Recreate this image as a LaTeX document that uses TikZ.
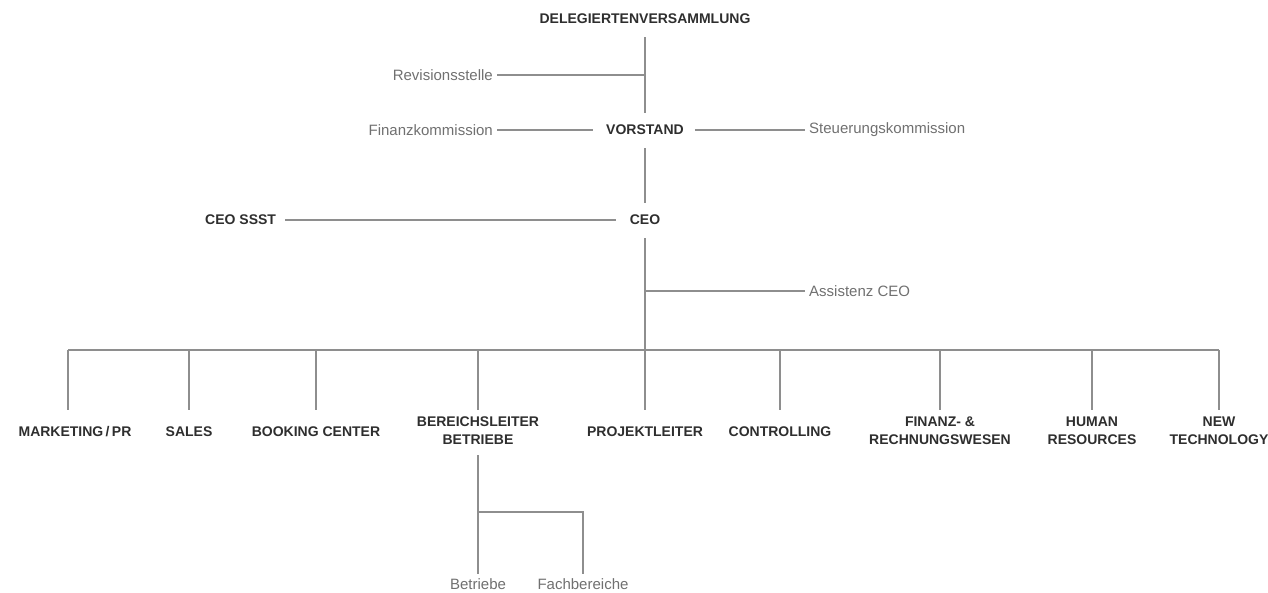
\documentclass[tikz,border=0pt]{standalone}
\usepackage{fontspec}
\setmainfont{Liberation Sans}
\definecolor{linegray}{HTML}{8E8E8E}
\definecolor{darktext}{HTML}{2E2E2E}
\definecolor{softtext}{HTML}{707070}

\begin{document}
\begin{tikzpicture}[x=1pt,y=-1pt,
                  chief/.style={font=\fontsize{14}{18}\selectfont\bfseries, text=darktext,
                              inner sep=0pt, align=center},
                  staff/.style={font=\fontsize{15}{18}\selectfont, text=softtext, inner sep=0pt},
                  link/.style={draw=linegray, line width=1.6pt}]
            \useasboundingbox (0,0) rectangle (1268,592);
            % top of the chart
            \node[chief] (dv) at (645,19) {DELEGIERTENVERSAMMLUNG};
            \node[chief] (vor) at (645,130) {VORSTAND};
            \node[staff, anchor=east] (rev) at (493,75) {Revisionsstelle};
            \node[staff, anchor=east] (fin) at (493,130) {Finanzkommission};
            \node[staff, anchor=west] (steu) at (809,130) {Steuerungskommission};
            \node[chief] (ceo) at (645,220) {CEO};
            \node[chief, anchor=west] (ssst) at (205,220) {CEO SSST};
            \node[staff, anchor=west] (ass) at (809,291) {Assistenz CEO};

            \draw[link, shorten <=13pt, shorten >=12pt] (dv.south) -- (vor.north);
            \draw[link, shorten <=4pt] (rev.east) -- (rev.east -| vor);
            \draw[link, shorten <=4pt, shorten >=13pt] (fin) -- (vor);
            \draw[link, shorten <=11pt, shorten >=4pt] (vor) -- (steu);
            \draw[link, shorten <=13pt, shorten >=12pt] (vor) -- (ceo);
            \draw[link, shorten <=9pt, shorten >=14pt] (ssst) -- (ceo);

            % departments
            \node[chief] (mkt) at (75,432) {MARKETING\,/\,PR};
            \node[chief] (sales) at (189,432) {SALES};
            \node[chief] (book) at (316,432) {BOOKING CENTER};
            \node[chief] (brl) at (478,431) {BEREICHSLEITER\\BETRIEBE};
            \node[chief] (proj) at (645,432) {PROJEKTLEITER};
            \node[chief] (ctrl) at (780,432) {CONTROLLING};
            \node[chief] (frw) at (940,431) {FINANZ- \&\\RECHNUNGSWESEN};
            \node[chief] (hr) at (1092,431) {HUMAN\\RESOURCES};
            \node[chief] (nt) at (1219,431) {NEW\\TECHNOLOGY};

            \coordinate (bar) at (68,350);
            \coordinate (dropend) at (68,410);
            \draw[link, shorten <=13pt] (ceo.south) -- (ceo.south |- bar);
            \draw[link, shorten >=4pt] (ceo |- ass) -- (ass.west);
            \draw[link] (bar) -- (bar -| nt);
            \draw[link] (bar) -- (dropend);
            \foreach \dept in {sales,book,brl,proj,ctrl,frw,hr,nt}
                  \draw[link] (\dept |- bar) -- (\dept |- dropend);

            % below Bereichsleiter
            \node[staff] (betr) at (478,584) {Betriebe};
            \node[staff] (fach) at (583,584) {Fachbereiche};
            \coordinate (split) at (478,512);
            \draw[link, shorten <=10pt, shorten >=4pt] (brl.south) -- (betr.north);
            \draw[link, shorten >=4pt] (split) -| (fach.north);
      \end{tikzpicture}
\end{document}
